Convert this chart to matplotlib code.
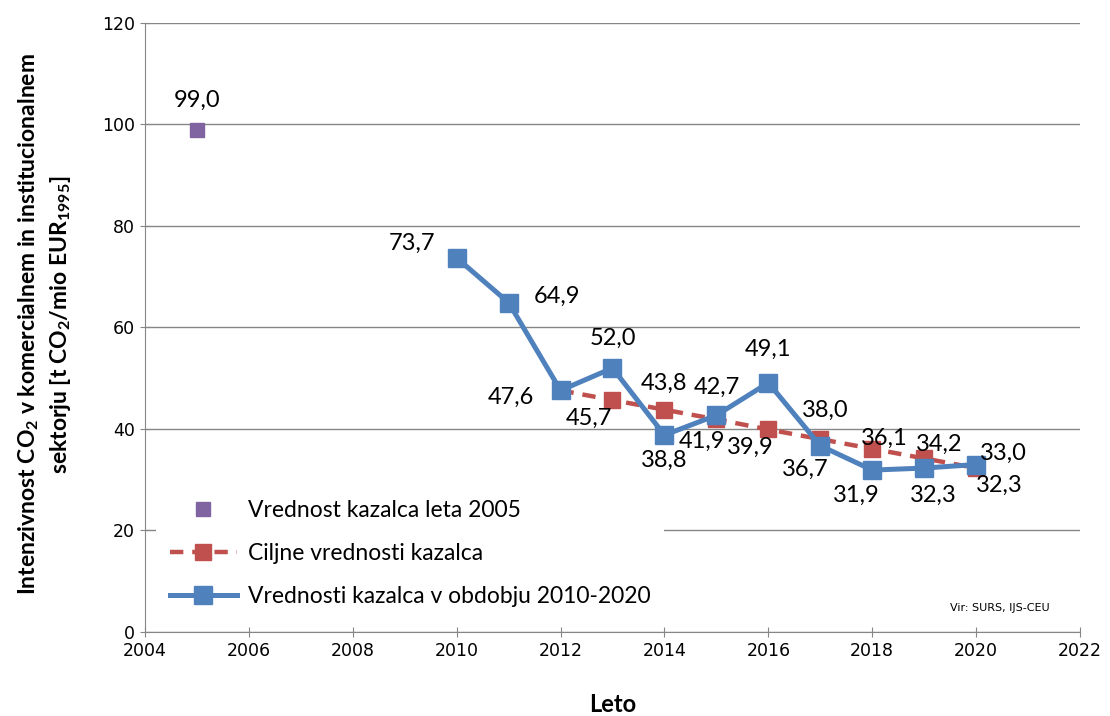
import matplotlib
matplotlib.use('Agg')
import matplotlib.pyplot as plt

# podatki
leto_2005 = [2005]
vrednost_2005 = [99.0]

leta_cilj = [2012, 2013, 2014, 2015, 2016, 2017, 2018, 2019, 2020]
cilj = [47.6, 45.7, 43.8, 41.9, 39.9, 38.0, 36.1, 34.2, 32.3]

leta = [2010, 2011, 2012, 2013, 2014, 2015, 2016, 2017, 2018, 2019, 2020]
vrednosti = [73.7, 64.9, 47.6, 52.0, 38.8, 42.7, 49.1, 36.7, 31.9, 32.3, 33.0]

# odmiki oznak (v pikslih)
odmik_modra = [(-45, 15), (48, 6), (-50, -7), (0, 30), (0, -25), (0, 28), (0, 33), (-15, -24), (-16, -25), (9, -27), (27, 11)]
odmik_rdeca = [None, (-24, -18), (0, 26), (-14, -22), (-18, -18), (5, 29), (12, 10), (15, 14), (23, -17)]

modra = '#4F81BD'
rdeca = '#C0504D'
vijolicna = '#8064A2'
siva = '#868686'

plt.rcParams['mathtext.fontset'] = 'custom'
plt.rcParams['mathtext.rm'] = 'Lato'
plt.rcParams['mathtext.bf'] = 'Lato:bold'

fig = plt.figure(figsize=(11.1, 7.16), dpi=100)
ax = fig.add_axes([0.1306, 0.1173, 0.8424, 0.8507])

ax.plot(leto_2005, vrednost_2005, 's', color=vijolicna, markersize=10,
        label='Vrednost kazalca leta 2005', zorder=3)
ax.plot(leta_cilj, cilj, '--s', color=rdeca, linewidth=3.2, markersize=12,
        dashes=(3, 2), label='Ciljne vrednosti kazalca', zorder=3)
ax.plot(leta, vrednosti, '-s', color=modra, linewidth=3.6, markersize=13,
        label='Vrednosti kazalca v obdobju 2010-2020', zorder=4)

lab_font = dict(family='Lato', fontsize=17, ha='center', va='center', zorder=6)
ax.annotate('99,0', (2005, 99.0), xytext=(0, 29), textcoords='offset pixels', **lab_font)
for x, y, o in zip(leta, vrednosti, odmik_modra):
    ax.annotate(f'{y:.1f}'.replace('.', ','), (x, y), xytext=o, textcoords='offset pixels', **lab_font)
for x, y, o in zip(leta_cilj, cilj, odmik_rdeca):
    if o is None:
        continue
    ax.annotate(f'{y:.1f}'.replace('.', ','), (x, y), xytext=o, textcoords='offset pixels', **lab_font)

ax.set_xlim(2004, 2022)
ax.set_ylim(0, 120)
ax.set_xticks(range(2004, 2023, 2))
ax.set_yticks(range(0, 121, 20))
ax.yaxis.grid(True, color=siva, linewidth=1)
ax.set_axisbelow(True)
for s in ['top', 'right']:
    ax.spines[s].set_visible(False)
for s in ['left', 'bottom']:
    ax.spines[s].set_color(siva)
ax.tick_params(colors=siva, labelcolor='black', labelsize=12.5, length=7, direction='inout')
for lab in ax.get_xticklabels() + ax.get_yticklabels():
    lab.set_family('DejaVu Sans')

ax.set_xlabel('Leto', family='Lato', fontweight='bold', fontsize=17)
ax.xaxis.set_label_coords(0.5, -0.1)
ax.set_ylabel('Intenzivnost CO$_\\mathbf{2}$ v komercialnem in institucionalnem\n'
              'sektorju [t CO$_\\mathbf{2}$/mio EUR$_\\mathbf{1995}$]',
              family='Lato', fontweight='bold', fontsize=16.5, linespacing=1.35)
ax.yaxis.set_label_coords(-0.077, 0.505)

leg = ax.legend(loc='lower left', bbox_to_anchor=(0.0, 0.0), frameon=True,
                prop={'family': 'Lato', 'size': 16.5}, handlelength=2.9,
                labelspacing=0.95, borderpad=0.6, handletextpad=0.5)
leg.get_frame().set_facecolor('white')
leg.get_frame().set_edgecolor('none')
leg.get_frame().set_alpha(1)

ax.text(0.968, 0.04, 'Vir: SURS, IJS-CEU', transform=ax.transAxes, ha='right',
        va='center', family='DejaVu Sans', fontsize=8)

fig.savefig('out.png', dpi=100)
